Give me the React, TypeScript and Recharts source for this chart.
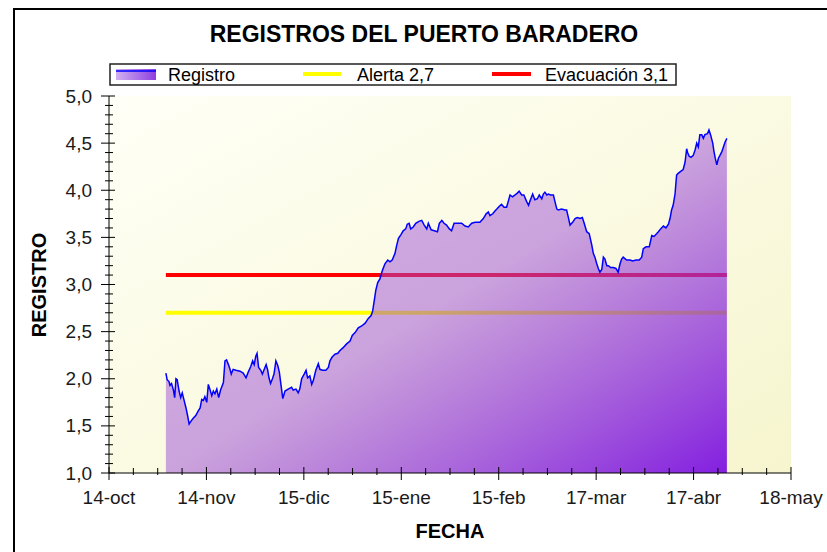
import React from 'react';
import { ComposedChart, Area, Line, XAxis, YAxis, CartesianGrid } from 'recharts';

// Días transcurridos desde el 14-oct (fecha de cada registro)
const DIAS = [
  18.1, 18.5, 19.1, 19.4, 19.9, 20.5, 20.9, 21.3, 21.7, 22.3, 22.8, 23.3, 23.9, 24.5, 25.0, 25.5,
  26.1, 26.8, 27.6, 28.4, 29.0, 29.5, 30.0, 30.5, 31.1, 31.6, 32.1, 32.7, 33.2, 33.7, 34.3, 34.9,
  35.5, 36.4, 36.9, 37.4, 38.0, 38.5, 38.9, 39.5, 40.4, 41.7, 42.7, 43.6, 44.3, 45.1, 45.7, 46.2,
  46.7, 47.1, 47.6, 48.3, 48.8, 49.4, 50.0, 50.5, 50.9, 51.4, 52.0, 52.5, 53.1, 53.7, 54.2, 54.7,
  55.3, 56.0, 57.0, 58.1, 58.6, 59.5, 60.2, 60.7, 61.3, 62.1, 62.7, 63.2, 63.9, 64.5, 65.0, 65.8,
  66.6, 67.1, 67.9, 69.0, 69.8, 70.3, 71.0, 71.9, 72.8, 73.5, 74.5, 75.6, 76.7, 77.4, 78.3, 79.3,
  80.4, 81.5, 82.5, 83.4, 83.9, 84.4, 84.9, 85.5, 86.2, 87.0, 87.8, 88.7, 89.4, 90.1, 91.0, 91.5,
  92.1, 92.9, 93.6, 94.4, 94.9, 95.5, 96.0, 96.8, 97.6, 98.6, 99.5, 100.3, 101.1, 101.6, 102.5, 103.5,
  104.5, 105.1, 105.9, 106.6, 107.4, 108.3, 109.0, 109.8, 110.6, 112.2, 113.3, 114.3, 115.4, 116.5, 118.0, 119.1,
  120.0, 120.7, 121.2, 122.1, 122.8, 123.4, 124.2, 124.9, 125.7, 126.5, 127.1, 127.6, 128.4, 129.2, 129.9, 130.5,
  131.3, 132.0, 132.9, 133.5, 134.0, 134.8, 135.5, 136.3, 136.9, 137.7, 138.2, 138.7, 139.3, 139.8, 140.5, 141.4,
  141.9, 142.5, 143.0, 144.0, 145.1, 145.6, 146.1, 146.7, 147.5, 148.3, 149.0, 149.9, 150.6, 151.1, 152.0, 152.8,
  153.6, 154.1, 154.6, 155.2, 155.7, 156.2, 156.8, 157.3, 157.8, 158.4, 158.9, 159.6, 160.5, 161.3, 162.0, 162.6,
  163.1, 163.6, 164.7, 165.8, 166.6, 167.7, 168.7, 169.5, 170.0, 170.9, 171.9, 172.7, 173.4, 174.3, 174.8, 175.5,
  176.4, 177.2, 178.0, 178.5, 179.0, 179.5, 180.1, 180.6, 181.1, 181.9, 182.7, 183.3, 183.8, 184.1, 184.6, 185.2,
  185.9, 186.5, 187.0, 187.5, 188.0, 188.6, 189.1, 189.6, 190.4, 190.9, 191.4, 192.1, 192.5, 192.9, 193.4, 193.9,
  194.4, 195.0, 195.5, 196.0, 196.6,
];

const REGISTRO = [
  2.06, 1.99, 1.97, 1.93, 1.95, 1.88, 1.80, 2.00, 1.99, 1.87, 1.80, 1.85, 1.77, 1.69, 1.61, 1.52,
  1.55, 1.58, 1.61, 1.66, 1.69, 1.78, 1.77, 1.81, 1.75, 1.94, 1.89, 1.82, 1.87, 1.84, 1.89, 1.80,
  1.88, 1.96, 2.19, 2.20, 2.15, 2.10, 2.05, 2.10, 2.09, 2.08, 2.06, 2.01, 2.07, 2.13, 2.19, 2.15,
  2.24, 2.27, 2.12, 2.09, 2.05, 2.10, 2.15, 2.09, 2.01, 1.95, 2.00, 2.05, 2.19, 2.14, 2.07, 1.94,
  1.79, 1.87, 1.89, 1.91, 1.88, 1.89, 1.85, 1.89, 2.00, 2.05, 2.09, 2.01, 2.03, 1.94, 1.98, 2.09,
  2.16, 2.10, 2.09, 2.09, 2.12, 2.19, 2.23, 2.26, 2.27, 2.30, 2.33, 2.37, 2.40, 2.46, 2.49, 2.54,
  2.56, 2.59, 2.64, 2.67, 2.72, 2.83, 2.94, 3.02, 3.06, 3.15, 3.22, 3.26, 3.24, 3.26, 3.33, 3.41,
  3.49, 3.53, 3.57, 3.59, 3.64, 3.65, 3.59, 3.61, 3.65, 3.67, 3.68, 3.63, 3.59, 3.65, 3.58, 3.57,
  3.56, 3.65, 3.68, 3.65, 3.63, 3.59, 3.57, 3.65, 3.65, 3.65, 3.62, 3.61, 3.65, 3.66, 3.66, 3.70,
  3.75, 3.77, 3.73, 3.75, 3.78, 3.80, 3.83, 3.85, 3.82, 3.82, 3.89, 3.95, 3.93, 3.95, 3.97, 3.99,
  3.95, 3.95, 3.88, 3.84, 3.89, 3.96, 3.90, 3.91, 3.95, 3.91, 3.96, 3.98, 3.95, 3.96, 3.95, 3.95,
  3.88, 3.80, 3.79, 3.80, 3.79, 3.79, 3.72, 3.63, 3.66, 3.70, 3.71, 3.70, 3.71, 3.66, 3.56, 3.54,
  3.42, 3.33, 3.29, 3.22, 3.17, 3.13, 3.16, 3.29, 3.27, 3.20, 3.20, 3.18, 3.18, 3.17, 3.13, 3.22,
  3.27, 3.29, 3.26, 3.26, 3.25, 3.26, 3.26, 3.29, 3.38, 3.40, 3.40, 3.52, 3.51, 3.54, 3.56, 3.59,
  3.62, 3.60, 3.64, 3.70, 3.79, 3.84, 3.96, 4.16, 4.18, 4.20, 4.22, 4.30, 4.44, 4.40, 4.36, 4.35,
  4.37, 4.43, 4.50, 4.46, 4.59, 4.59, 4.55, 4.59, 4.60, 4.64, 4.59, 4.50, 4.41, 4.34, 4.27, 4.34,
  4.37, 4.41, 4.46, 4.51, 4.55,
];

const X_TICK_LABELS = ['14-oct', '14-nov', '15-dic', '15-ene', '15-feb', '17-mar', '17-abr', '18-may'];
const DIAS_ENTRE_MARCAS = 31;
const SUBDIV_X = 4;
const Y_MIN = 1;
const Y_MAX = 5;
const ALERTA = 2.7;
const EVACUACION = 3.1;

const TITLE = 'REGISTROS DEL PUERTO BARADERO';
const X_TITLE = 'FECHA';
const Y_TITLE = 'REGISTRO';
const LEGEND_NAMES = ['Registro', 'Alerta 2,7', 'Evacuación 3,1'];

const data = DIAS.map((dia, i) => ({ dia, registro: REGISTRO[i] }));
const X_MAX = DIAS_ENTRE_MARCAS * (X_TICK_LABELS.length - 1);
const xTicks = Array.from({ length: (X_TICK_LABELS.length - 1) * SUBDIV_X + 1 }, (_, k) => (k * DIAS_ENTRE_MARCAS) / SUBDIV_X);
const yTicks = Array.from({ length: Math.round((Y_MAX - Y_MIN) * 10) + 1 }, (_, k) => (Y_MIN * 10 + k) / 10);
const alertaData = [
  { dia: DIAS[0], nivel: ALERTA },
  { dia: DIAS[DIAS.length - 1], nivel: ALERTA },
];
const evacData = [
  { dia: DIAS[0], nivel: EVACUACION },
  { dia: DIAS[DIAS.length - 1], nivel: EVACUACION },
];

const FONT = '"Liberation Sans", Arial, Helvetica, sans-serif';
const W = 827;
const H = 552;

const isMajorY = (v: number) => Math.round(v * 10) % 5 === 0;
const xIndex = (v: number) => Math.round((v * SUBDIV_X) / DIAS_ENTRE_MARCAS);

const LeftTick = (props: any) => {
  const { x, y, payload } = props;
  const v = payload.value as number;
  const major = isMajorY(v);
  return (
    <g>
      <line x1={x - (major ? 8 : 4)} x2={x + (major ? 6 : 4)} y1={y} y2={y} stroke="#000" strokeWidth={1} />
      {major && (
        <text x={x - 17} y={y + 6.5} textAnchor="end" fontSize={19} fontFamily={FONT} fill="#1a1a1a">
          {v.toFixed(1).replace('.', ',')}
        </text>
      )}
    </g>
  );
};

const RightTick = (props: any) => {
  const { x, y, payload } = props;
  const major = isMajorY(payload.value);
  return <line x1={x - (major ? 8 : 4)} x2={x} y1={y} y2={y} stroke="#000" strokeWidth={1} />;
};

const BottomTick = (props: any) => {
  const { x, y, payload } = props;
  const k = xIndex(payload.value);
  const major = k % SUBDIV_X === 0;
  return (
    <g>
      <line x1={x} x2={x} y1={y - (major ? 6 : 5)} y2={y + (major ? 7 : 2)} stroke="#000" strokeWidth={1} />
      {major && (
        <text x={x} y={y + 31} textAnchor="middle" fontSize={19} fontFamily={FONT} fill="#1a1a1a">
          {X_TICK_LABELS[k / SUBDIV_X]}
        </text>
      )}
    </g>
  );
};

const TopTick = (props: any) => {
  const { x, y, payload } = props;
  const major = xIndex(payload.value) % SUBDIV_X === 0;
  return <line x1={x} x2={x} y1={y} y2={y + (major ? 6 : 5)} stroke="#000" strokeWidth={1} />;
};

export default function App() {
  return (
    <div style={{ position: 'fixed', left: 0, top: 0, width: W, height: H, overflow: 'hidden', background: '#fff' }}>
      <div
        style={{
          position: 'absolute',
          left: 13,
          top: 8,
          width: 1000,
          height: 1000,
          border: '2px solid #000',
          boxSizing: 'border-box',
        }}
      />
      <div style={{ position: 'absolute', left: 0, top: 0 }}>
        <ComposedChart width={W} height={H} data={data} margin={{ top: 96, right: 36, bottom: 39, left: 49 }}>
          <defs>
            <linearGradient id="plotBg" x1="0" y1="0" x2="1" y2="1">
              <stop offset="0%" stopColor="#FFFFF7" />
              <stop offset="100%" stopColor="#F6F5CE" />
            </linearGradient>
            <linearGradient id="areaGrad" x1="0" y1="0" x2="1" y2="1">
              <stop offset="0%" stopColor="rgb(160,85,215)" stopOpacity={0.45} />
              <stop offset="50%" stopColor="rgb(155,75,215)" stopOpacity={0.5} />
              <stop offset="100%" stopColor="rgb(125,20,225)" stopOpacity={0.95} />
            </linearGradient>
            <linearGradient id="legendGrad" x1="0" y1="0" x2="1" y2="0">
              <stop offset="0%" stopColor="#D2B0F0" />
              <stop offset="100%" stopColor="#8E3FE0" />
            </linearGradient>
          </defs>
          <CartesianGrid xAxisId="x" yAxisId="y" horizontal={false} vertical={false} fill="url(#plotBg)" stroke="none" />
          <XAxis
            xAxisId="x"
            dataKey="dia"
            type="number"
            domain={[0, X_MAX]}
            ticks={xTicks}
            interval={0}
            height={40}
            tickSize={0}
            tickMargin={0}
            tickLine={false}
            tick={BottomTick}
            axisLine={{ stroke: '#000', strokeWidth: 1 }}
            allowDataOverflow
          />
          <XAxis
            xAxisId="top"
            orientation="top"
            dataKey="dia"
            type="number"
            domain={[0, X_MAX]}
            ticks={xTicks}
            interval={0}
            height={0}
            tickSize={0}
            tickMargin={0}
            tickLine={false}
            tick={TopTick}
            axisLine={{ stroke: '#000', strokeWidth: 1 }}
            allowDataOverflow
          />
          <YAxis
            yAxisId="y"
            type="number"
            domain={[Y_MIN, Y_MAX]}
            ticks={yTicks}
            interval={0}
            width={60}
            tickSize={0}
            tickMargin={0}
            tickLine={false}
            tick={LeftTick}
            axisLine={{ stroke: '#000', strokeWidth: 1 }}
            allowDataOverflow
          />
          <YAxis
            yAxisId="right"
            orientation="right"
            type="number"
            domain={[Y_MIN, Y_MAX]}
            ticks={yTicks}
            interval={0}
            width={0}
            tickSize={0}
            tickMargin={0}
            tickLine={false}
            tick={RightTick}
            axisLine={{ stroke: '#222', strokeWidth: 1 }}
            allowDataOverflow
          />
          <Line
            xAxisId="x"
            yAxisId="y"
            data={alertaData}
            dataKey="nivel"
            name={LEGEND_NAMES[1]}
            stroke="#FFFF00"
            strokeWidth={4}
            dot={false}
            activeDot={false}
            isAnimationActive={false}
            zIndex={50}
          />
          <Line
            xAxisId="x"
            yAxisId="y"
            data={evacData}
            dataKey="nivel"
            name={LEGEND_NAMES[2]}
            stroke="#FF0000"
            strokeWidth={4}
            dot={false}
            activeDot={false}
            isAnimationActive={false}
            zIndex={51}
          />
          <Area
            xAxisId="x"
            yAxisId="y"
            dataKey="registro"
            name={LEGEND_NAMES[0]}
            type="linear"
            baseValue={Y_MIN}
            stroke="#0000FF"
            strokeWidth={1.5}
            fill="url(#areaGrad)"
            fillOpacity={1}
            dot={false}
            activeDot={false}
            isAnimationActive={false}
            zIndex={150}
          />
          <text x={424} y={42} textAnchor="middle" fontSize={23} fontWeight="bold" fontFamily={FONT} fill="#000">
            {TITLE}
          </text>
          <text x={450} y={538} textAnchor="middle" fontSize={20} fontWeight="bold" fontFamily={FONT} fill="#000">
            {X_TITLE}
          </text>
          <text
            x={46}
            y={285}
            textAnchor="middle"
            fontSize={20}
            fontWeight="bold"
            fontFamily={FONT}
            fill="#000"
            transform="rotate(-90 46 285)"
          >
            {Y_TITLE}
          </text>
          <g>
            <rect x={110} y={64} width={566} height={21} fill="#fff" stroke="#222" strokeWidth={1.5} />
            <rect x={116} y={69} width={40} height={11} fill="url(#legendGrad)" />
            <line x1={116} x2={156} y1={71} y2={71} stroke="#0000FF" strokeWidth={1.5} />
            <text x={168} y={81} fontSize={18} fontFamily={FONT} fill="#000">{LEGEND_NAMES[0]}</text>
            <line x1={303} x2={341} y1={74} y2={74} stroke="#FFFF00" strokeWidth={4} />
            <text x={357} y={81} fontSize={18} fontFamily={FONT} fill="#000">{LEGEND_NAMES[1]}</text>
            <line x1={492} x2={531} y1={74} y2={74} stroke="#FF0000" strokeWidth={4} />
            <text x={545} y={81} fontSize={18} fontFamily={FONT} fill="#000">{LEGEND_NAMES[2]}</text>
          </g>
        </ComposedChart>
      </div>
    </div>
  );
}
